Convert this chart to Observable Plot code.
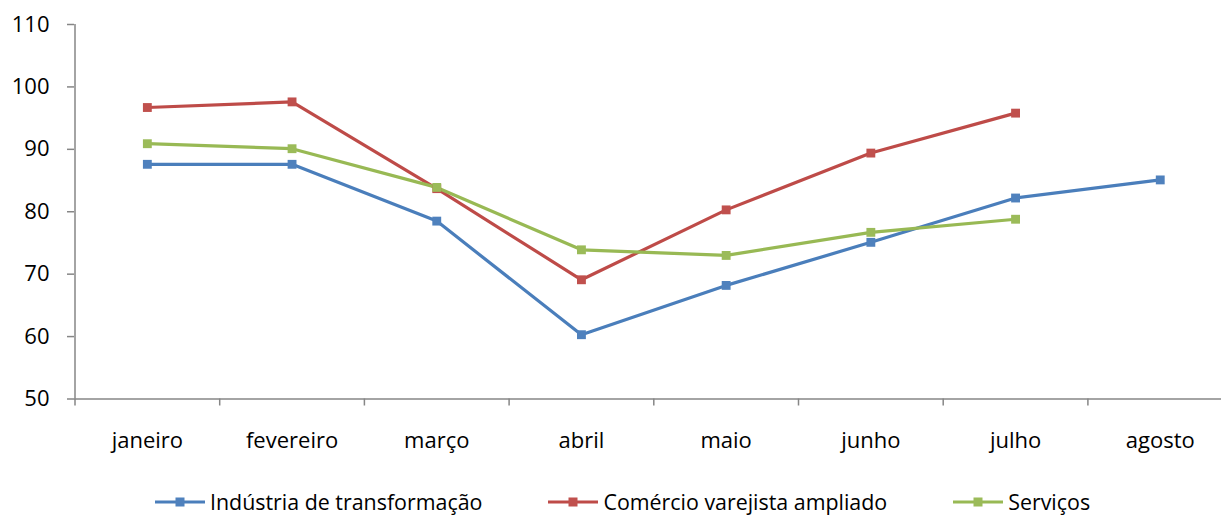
<!DOCTYPE html>
<html>
<head>
<meta charset="utf-8">
<script src="https://cdn.jsdelivr.net/npm/d3@7"></script>
<script src="https://cdn.jsdelivr.net/npm/@observablehq/plot@0.6"></script>
<style>
  html, body { margin: 0; padding: 0; background: #fff; }
  body { width: 1221px; height: 515px; position: relative; overflow: hidden; font-family: "Open Sans", sans-serif; }
  #legend { position: absolute; left: 155px; top: 490px; display: flex; align-items: center; font-size: 21.4px; color: #000; white-space: nowrap; line-height: 24px; height: 24px; }
  .item { display: flex; align-items: center; margin-right: 66px; }
  .item svg { margin-right: 5px; }
</style>
</head>
<body>
<div id="chart"></div>
<div id="legend"></div>
<script>
const months = ["janeiro", "fevereiro", "março", "abril", "maio", "junho", "julho", "agosto"];
const seriesNames = ["Indústria de transformação", "Comércio varejista ampliado", "Serviços"];
const industria = [87.6, 87.6, 78.5, 60.3, 68.2, 75.1, 82.2, 85.1];
const comercio = [96.7, 97.6, 83.7, 69.1, 80.3, 89.4, 95.8];
const servicos = [90.9, 90.1, 83.9, 73.9, 73.0, 76.7, 78.8];
const yTicks = [50, 60, 70, 80, 90, 100, 110];
const lineColors = ["#4A7EBB", "#BE4B48", "#98B954"];
const markerColors = ["#4F81BD", "#C0504D", "#9BBB59"];

const seriesValues = [industria, comercio, servicos];
const data = seriesValues.flatMap((vals, s) =>
  vals.map((v, i) => ({series: seriesNames[s], idx: i, month: months[i], value: v}))
);

const axisColor = "#868686";
const font = "Open Sans, sans-serif";

const chart = Plot.plot({
  width: 1221,
  height: 470,
  marginLeft: 74,
  marginRight: 0,
  marginTop: 24,
  marginBottom: 71.5,
  style: {fontFamily: font, fontSize: "22px", color: "#000", background: "#fff"},
  x: {type: "linear", domain: [0, months.length], range: [74.5, 74.5 + 144.7 * months.length]},
  y: {domain: [50, 110]},
  color: {domain: seriesNames, range: lineColors},
  marks: [
    Plot.ruleY([50], {stroke: axisColor, strokeWidth: 1.5}),
    Plot.ruleX([0], {stroke: axisColor, strokeWidth: 1.5}),
    Plot.axisY({ticks: yTicks, tickSize: 7, tickPadding: 18, stroke: axisColor, strokeWidth: 1.5, fill: "#000", fontSize: 22, label: null}),
    Plot.axisX({ticks: d3.range(0, months.length + 1), tickSize: 7, tickFormat: () => "", stroke: axisColor, strokeWidth: 1.5, label: null}),
    Plot.axisX({ticks: months.map((m, i) => i + 0.5), tickSize: 0, tickPadding: 33, tickFormat: (d) => months[Math.floor(d)], fill: "#000", fontSize: 22, label: null}),
    Plot.line(data, {x: (d) => d.idx + 0.5, y: "value", z: "series", stroke: "series", strokeWidth: 3.2, strokeLinejoin: "round"}),
    Plot.dot(data, {x: (d) => d.idx + 0.5, y: "value", symbol: "square", r: 5, fill: (d) => markerColors[seriesNames.indexOf(d.series)], stroke: "none"})
  ]
});
document.getElementById("chart").appendChild(chart);

const legend = document.getElementById("legend");
seriesNames.forEach((name, i) => {
  const item = document.createElement("div");
  item.className = "item";
  item.innerHTML = `<svg width="50" height="12"><line x1="0" y1="6" x2="50" y2="6" stroke="${lineColors[i]}" stroke-width="3.2"/><rect x="20.5" y="1.5" width="9" height="9" fill="${markerColors[i]}"/></svg><span>${name}</span>`;
  legend.appendChild(item);
});
</script>
</body>
</html>
